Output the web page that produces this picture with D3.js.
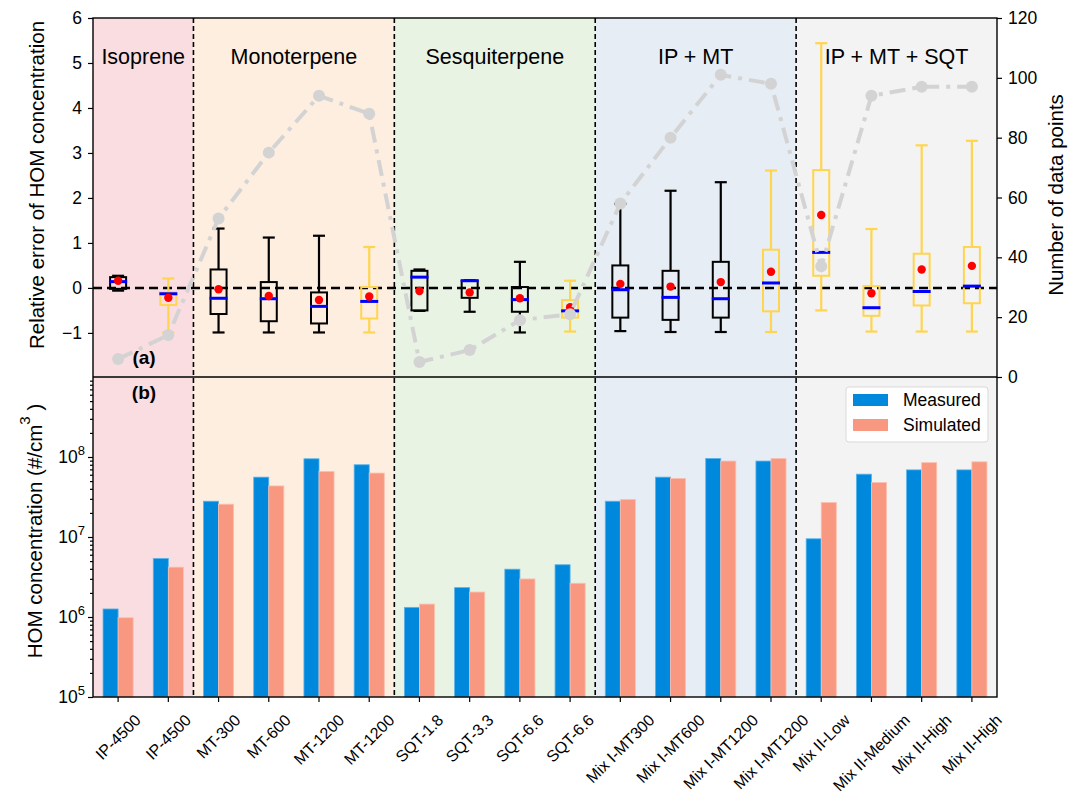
<!DOCTYPE html>
<html><head><meta charset="utf-8">
<script src="https://cdn.jsdelivr.net/npm/d3@7"></script>
<style>
body{margin:0;background:#fff;}
text{font-family:"Liberation Sans",Arial,sans-serif;fill:#000;}
</style></head>
<body>
<svg id="chart" width="1072" height="800"></svg>
<script>
// ---------------- DATA ----------------
const categories = ["IP-4500","IP-4500","MT-300","MT-600","MT-1200","MT-1200","SQT-1.8","SQT-3.3","SQT-6.6","SQT-6.6",
  "Mix I-MT300","Mix I-MT600","Mix I-MT1200","Mix I-MT1200","Mix II-Low","Mix II-Medium","Mix II-High","Mix II-High"];
const groupNames = ["Isoprene","Monoterpene","Sesquiterpene","IP + MT","IP + MT + SQT"];
const groupSizes = [2,4,4,4,4];
// model variant per category (0 = first variant, 1 = second variant)
const modelVariant = [0,1,0,0,0,1,0,0,0,1,0,0,0,1,1,1,1,1];
const whiskerHigh = [0.27,0.21,1.32,1.12,1.16,0.91,0.41,0.17,0.58,0.16,1.87,2.16,2.35,2.61,5.44,1.31,3.17,3.27];
const q3          = [0.24,-0.10,0.41,0.13,-0.10,0.02,0.38,0.16,0.02,-0.27,0.50,0.38,0.58,0.85,2.62,0.04,0.76,0.91];
const median      = [0.14,-0.13,-0.23,-0.24,-0.41,-0.30,0.24,0.16,-0.26,-0.51,-0.04,-0.21,-0.24,0.11,0.79,-0.44,-0.08,0.04];
const q1          = [-0.02,-0.38,-0.58,-0.74,-0.79,-0.68,-0.50,-0.22,-0.53,-0.66,-0.66,-0.71,-0.66,-0.52,0.27,-0.62,-0.39,-0.34];
const whiskerLow  = [-0.06,-0.99,-0.99,-0.99,-0.99,-0.99,-0.51,-0.53,-0.99,-0.97,-0.96,-0.98,-0.98,-0.98,-0.50,-0.97,-0.97,-0.97];
const meanErr     = [0.16,-0.22,-0.03,-0.18,-0.27,-0.19,-0.07,-0.10,-0.23,-0.43,0.09,0.03,0.13,0.36,1.62,-0.12,0.41,0.49];
const nPoints     = [6,14,53,75,94,88,5,9,19,21,58,80,101,98,37,94,97,97];
const measured    = [1.26e6,5.4e6,2.8e7,5.6e7,9.5e7,8.0e7,1.32e6,2.33e6,3.96e6,4.5e6,2.8e7,5.6e7,9.6e7,8.9e7,9.5e6,6.1e7,6.9e7,6.9e7];
const simulated   = [9.8e5,4.2e6,2.57e7,4.35e7,6.6e7,6.3e7,1.45e6,2.05e6,2.99e6,2.64e6,2.95e7,5.4e7,8.9e7,9.6e7,2.7e7,4.8e7,8.5e7,8.7e7];
const leftTicks = [-1,0,1,2,3,4,5,6];
const rightTicks = [0,20,40,60,80,100,120];
const logTicks = [1e5,1e6,1e7,1e8];
const seriesNames = ["Measured","Simulated"];

// ---------------- STYLES ----------------
const bgColors = ["#fadde1","#fdeee0","#e8f3e4","#e6edf5","#f3f3f3"];
const boxColors = ["#000000","#ffd54f"];
const barColors = ["#0088dd","#f89880"];
const L = 93, R = 997, T = 18, MID = 377, B = 697;

const svg = d3.select("#chart");
const idx = d3.range(categories.length);
const x = d3.scaleBand().domain(idx).range([L,R]).padding(0);
const yTop = d3.scaleLinear().domain([-1.98,6]).range([MID,T]);
const yRight = d3.scaleLinear().domain([0,120]).range([MID,T]);
const yLog = d3.scaleLog().domain([1e5,1e9]).range([B,MID]);
const cx = i => x(i) + x.bandwidth()/2;

// backgrounds
let start = 0;
const groupStarts = groupSizes.map(s => { const v = start; start += s; return v; });
const groupEnd = k => groupStarts[k]+groupSizes[k] >= categories.length ? R : x(groupStarts[k]+groupSizes[k]);
groupNames.forEach((g,k) => {
  const x0 = x(groupStarts[k]);
  svg.append("rect").attr("x",x0).attr("y",T).attr("width",groupEnd(k)-x0).attr("height",B-T).attr("fill",bgColors[k]);
});

// ---------------- BOTTOM PANEL: bars ----------------
const bw = x.bandwidth()*0.3;
[measured, simulated].forEach((arr,s) => {
  svg.append("g").selectAll("rect").data(idx).join("rect")
    .attr("x", i => cx(i) - bw + s*bw)
    .attr("y", i => yLog(arr[i]))
    .attr("width", bw)
    .attr("height", i => B - yLog(arr[i]))
    .attr("fill", barColors[s])
    .attr("stroke", s===0 ? "#5ab4ea" : "#fbc0b0").attr("stroke-width",0.8);
});

// ---------------- TOP PANEL: boxes ----------------
const boxW = 16, capW = 12, medW = 18;
const gb = svg.append("g");
idx.forEach(i => {
  const c = boxColors[modelVariant[i]];
  const xc = cx(i);
  const g = gb.append("g");
  g.append("line").attr("x1",xc).attr("x2",xc).attr("y1",yTop(q3[i])).attr("y2",yTop(whiskerHigh[i])).attr("stroke",c).attr("stroke-width",2.2);
  g.append("line").attr("x1",xc).attr("x2",xc).attr("y1",yTop(q1[i])).attr("y2",yTop(whiskerLow[i])).attr("stroke",c).attr("stroke-width",2.2);
  g.append("line").attr("x1",xc-capW/2).attr("x2",xc+capW/2).attr("y1",yTop(whiskerHigh[i])).attr("y2",yTop(whiskerHigh[i])).attr("stroke",c).attr("stroke-width",2.2);
  g.append("line").attr("x1",xc-capW/2).attr("x2",xc+capW/2).attr("y1",yTop(whiskerLow[i])).attr("y2",yTop(whiskerLow[i])).attr("stroke",c).attr("stroke-width",2.2);
  g.append("rect").attr("x",xc-boxW/2).attr("y",yTop(q3[i])).attr("width",boxW).attr("height",yTop(q1[i])-yTop(q3[i]))
    .attr("fill","none").attr("stroke",c).attr("stroke-width",2);
});
// zero line
svg.append("line").attr("x1",L).attr("x2",R).attr("y1",yTop(0)).attr("y2",yTop(0))
  .attr("stroke","#000").attr("stroke-width",2.5).attr("stroke-dasharray","9,5");
idx.forEach(i => {
  const xc = cx(i);
  gb.append("line").attr("x1",xc-medW/2).attr("x2",xc+medW/2).attr("y1",yTop(median[i])).attr("y2",yTop(median[i]))
    .attr("stroke","#0000ff").attr("stroke-width",3);
  gb.append("circle").attr("cx",xc).attr("cy",yTop(meanErr[i])).attr("r",4.2).attr("fill","#ff0000");
});
svg.node().appendChild(gb.node());

// group dividers
groupStarts.slice(1).forEach(s => {
  svg.append("line").attr("x1",x(s)).attr("x2",x(s)).attr("y1",T).attr("y2",B)
    .attr("stroke","#000").attr("stroke-width",1.6).attr("stroke-dasharray","5,3");
});

// number of data points line
const line = d3.line().x(i => cx(i)).y(i => yRight(nPoints[i]));
svg.append("path").datum(idx).attr("d",line).attr("fill","none")
  .attr("stroke","#d3d3d3").attr("stroke-width",4).attr("stroke-dasharray","16,7,4,7");
svg.append("g").selectAll("circle").data(idx).join("circle")
  .attr("cx", i => cx(i)).attr("cy", i => yRight(nPoints[i])).attr("r",6).attr("fill","#d3d3d3");

// group names
groupNames.forEach((g,k) => {
  const a = x(groupStarts[k]);
  svg.append("text").attr("x",(a+groupEnd(k))/2).attr("y",64).attr("text-anchor","middle").attr("font-size",21.5).text(g);
});

// frames
svg.append("rect").attr("x",L).attr("y",T).attr("width",R-L).attr("height",B-T).attr("fill","none").attr("stroke","#000").attr("stroke-width",1.4);
svg.append("line").attr("x1",L).attr("x2",R).attr("y1",MID).attr("y2",MID).attr("stroke","#000").attr("stroke-width",1.4);

// axes
const fs = 17.5;
const axL = svg.append("g").attr("transform",`translate(${L},0)`)
  .call(d3.axisLeft(yTop).tickValues(leftTicks).tickSize(5).tickPadding(6));
const axR = svg.append("g").attr("transform",`translate(${R},0)`)
  .call(d3.axisRight(yRight).tickValues(rightTicks).tickSize(5).tickPadding(6));
const axB = svg.append("g").attr("transform",`translate(0,${B})`)
  .call(d3.axisBottom(x).tickFormat("").tickSize(5));
// minor log ticks
const minor = [];
for (let e=5;e<9;e++) for (let m=2;m<10;m++) minor.push(m*Math.pow(10,e));
const axLogMinor = svg.append("g").attr("transform",`translate(${L},0)`)
  .call(d3.axisLeft(yLog).tickValues(minor).tickFormat("").tickSize(3));
const axLog = svg.append("g").attr("transform",`translate(${L},0)`)
  .call(d3.axisLeft(yLog).tickValues(logTicks).tickFormat("").tickSize(5));
[axL,axR,axB,axLog,axLogMinor].forEach(a => {
  a.select(".domain").remove();
  a.selectAll(".tick line").attr("stroke","#000").attr("stroke-width",1.2);
  a.selectAll("text").attr("font-size",fs).attr("font-family","Liberation Sans, Arial, sans-serif");
});
// log labels with superscripts
logTicks.forEach(v => {
  const t = svg.append("text").attr("x",L-8).attr("y",yLog(v)+6).attr("text-anchor","end").attr("font-size",fs);
  t.append("tspan").text("10");
  t.append("tspan").attr("dy",-8).attr("font-size",13).text(Math.round(Math.log10(v)));
});
// x labels: rotated 45°, bounding box centred on tick
idx.forEach(i => {
  const t = svg.append("text").attr("text-anchor","middle").attr("dominant-baseline","central")
    .attr("font-size",16).text(categories[i]);
  const len = t.node().getComputedTextLength();
  const h = 16*1.1;
  const bb = (len + h) * Math.SQRT1_2;
  t.attr("transform",`translate(${cx(i)},${B + 14 + bb/2}) rotate(-45)`);
});

// axis titles
svg.append("text").attr("transform",`translate(44,185) rotate(-90)`).attr("text-anchor","middle").attr("font-size",20.5).text("Relative error of HOM concentration");
svg.append("text").attr("transform",`translate(1063,195) rotate(-90)`).attr("text-anchor","middle").attr("font-size",20.5).text("Number of data points");
const yl = svg.append("text").attr("transform",`translate(42,531) rotate(-90)`).attr("text-anchor","middle").attr("font-size",20.5);
yl.append("tspan").text("HOM concentration (#/cm");
yl.append("tspan").attr("dy",-12).attr("font-size",15).text("3");
yl.append("tspan").attr("dy",12).text(" )");

// panel labels
svg.append("text").attr("x",144).attr("y",364).attr("text-anchor","middle").attr("font-size",19).attr("font-weight","bold").text("(a)");
svg.append("text").attr("x",144).attr("y",399).attr("text-anchor","middle").attr("font-size",19).attr("font-weight","bold").text("(b)");

// legend
const lg = svg.append("g");
lg.append("rect").attr("x",846).attr("y",387).attr("width",142).attr("height",55).attr("rx",3)
  .attr("fill","#fff").attr("fill-opacity",0.85).attr("stroke","#d9d9d9").attr("stroke-width",1);
seriesNames.forEach((n,s) => {
  lg.append("rect").attr("x",853).attr("y",394+s*25).attr("width",35).attr("height",12).attr("fill",barColors[s]);
  lg.append("text").attr("x",903).attr("y",406+s*25).attr("font-size",17.5).text(n);
});
</script>
</body></html>
